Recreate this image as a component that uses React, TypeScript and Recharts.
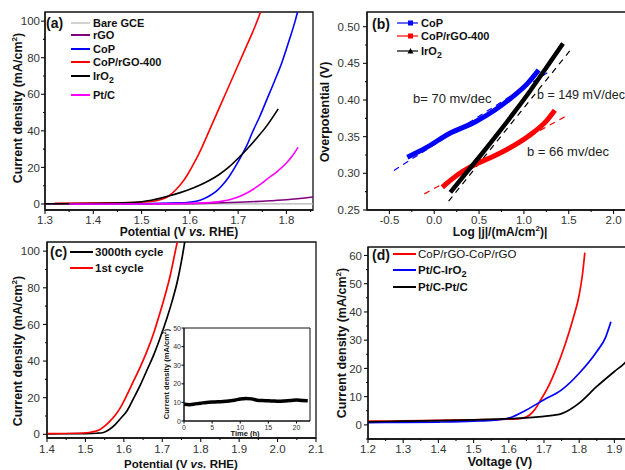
import React from 'react';
import { LineChart, Line, XAxis, YAxis, Legend, Label, ReferenceArea } from 'recharts';

const FONT = '"Liberation Sans", Arial, Helvetica, sans-serif';
const INK = '#111111';
const TINK = '#333333';

type P = [number, number];
const pts = (a: P[]) => a.map(([x, y]) => ({ x, y }));

// ---------------- Panel (a): OER polarization ----------------
const aSeries = ['Bare GCE', 'rGO', 'CoP', 'CoP/rGO-400', 'IrO2', 'Pt/C'];
const aColors = ['#b4b4b4', '#800080', '#0000ff', '#ff0000', '#000000', '#ff00ff'];
const aBareGCE: P[] = [[1.3, 0], [1.45, 0], [1.6, 0], [1.75, 0], [1.855, 0]];
const aRGO: P[] = [[1.3, 0], [1.5, 0.05], [1.6, 0.2], [1.65, 0.5], [1.7, 0.9], [1.75, 1.5], [1.8, 2.3], [1.855, 3.8]];
const aCoP: P[] = [[1.35, 0.1], [1.5, 0.2], [1.58, 0.6], [1.613, 1.5], [1.63, 3], [1.641, 4.5], [1.655, 7], [1.668, 10.5], [1.68, 14.5], [1.692, 19.5], [1.705, 25.5], [1.718, 32], [1.73, 39.5], [1.745, 48], [1.76, 57.5], [1.775, 67], [1.79, 77], [1.805, 89], [1.818, 100], [1.824, 106]];
const aCoPrGO: P[] = [[1.32, 0.3], [1.45, 0.6], [1.5, 1.0], [1.53, 1.8], [1.545, 2.8], [1.557, 4.5], [1.57, 7.5], [1.582, 11], [1.595, 16], [1.61, 23], [1.625, 31], [1.64, 40], [1.655, 49], [1.67, 58], [1.685, 67], [1.7, 76], [1.715, 85], [1.73, 94], [1.745, 104], [1.75, 108]];
const aIrO2: P[] = [[1.3, 0.1], [1.45, 0.5], [1.5, 1.2], [1.52, 2], [1.54, 3.2], [1.56, 4.6], [1.58, 6.2], [1.6, 8], [1.62, 10.2], [1.64, 12.8], [1.66, 16], [1.68, 20], [1.7, 25], [1.72, 30.5], [1.74, 36.5], [1.76, 43], [1.783, 52]];
const aPtC: P[] = [[1.35, 0], [1.5, 0], [1.6, 0.3], [1.65, 1], [1.68, 2.2], [1.7, 3.8], [1.72, 6.3], [1.74, 9.6], [1.76, 13.6], [1.78, 17.6], [1.8, 22.4], [1.812, 26.2], [1.824, 31]];
const aData = [aBareGCE, aRGO, aCoP, aCoPrGO, aIrO2, aPtC];
const aXMajor = [1.3, 1.4, 1.5, 1.6, 1.7, 1.8];
const aXMinor = [1.35, 1.45, 1.55, 1.65, 1.75, 1.85];
const aYMajor = [0, 20, 40, 60, 80, 100];
const aYMinor = [10, 30, 50, 70, 90];

// ---------------- Panel (b): Tafel ----------------
const bSeries = ['CoP', 'CoP/rGO-400', 'IrO2'];
const bColors = ['#0000ff', '#ff0000', '#000000'];
const bCoP: P[] = [[-0.3, 0.322], [-0.09, 0.335], [0.164, 0.354], [0.455, 0.37], [0.673, 0.386], [0.89, 0.406], [1.036, 0.422], [1.164, 0.441]];
const bCoPrGO: P[] = [[0.09, 0.281], [0.273, 0.299], [0.455, 0.312], [0.673, 0.324], [0.891, 0.338], [1.109, 0.356], [1.255, 0.372], [1.345, 0.386]];
const bIrO2: P[] = [[0.18, 0.274], [0.345, 0.299], [0.527, 0.326], [0.709, 0.354], [0.891, 0.383], [1.073, 0.413], [1.255, 0.445], [1.436, 0.477]];
const bFitCoP: P[] = [[-0.45, 0.304], [1.26, 0.437]];
const bFitCoPrGO: P[] = [[-0.11, 0.272], [1.455, 0.377]];
const bFitIrO2: P[] = [[0.16, 0.262], [1.545, 0.472]];
const bSlopes = ['b= 70 mv/dec', 'b = 149 mV/dec', 'b = 66 mv/dec'];
const bXMajor = [-0.5, 0, 0.5, 1.0, 1.5, 2.0];
const bXMinor = [-0.25, 0.25, 0.75, 1.25, 1.75];
const bYMajor = [0.25, 0.3, 0.35, 0.4, 0.45, 0.5];
const bYMinor = [0.275, 0.325, 0.375, 0.425, 0.475];

// ---------------- Panel (c): stability ----------------
const cSeries = ['3000th cycle', '1st cycle'];
const c3000: P[] = [[1.4, 0.3], [1.5, 0.4], [1.53, 0.6], [1.547, 1], [1.562, 2.6], [1.578, 5.4], [1.592, 8.8], [1.608, 12.7], [1.625, 19.5], [1.643, 27], [1.66, 35], [1.678, 43.5], [1.695, 53], [1.712, 63.4], [1.726, 73], [1.739, 83.3], [1.752, 97], [1.76, 107]];
const c1st: P[] = [[1.4, 0.4], [1.48, 0.6], [1.51, 1.0], [1.525, 1.6], [1.538, 2.7], [1.55, 4.5], [1.564, 7.2], [1.578, 10.5], [1.591, 14.6], [1.608, 21.5], [1.625, 29], [1.643, 37], [1.66, 45.3], [1.678, 55.5], [1.695, 67], [1.708, 76.5], [1.721, 87], [1.73, 96], [1.738, 104], [1.742, 108]];
const cXMajor = [1.4, 1.5, 1.6, 1.7, 1.8, 1.9, 2.0, 2.1];
const cXMinor = [1.45, 1.55, 1.65, 1.75, 1.85, 1.95, 2.05];
const cYMajor = [0, 20, 40, 60, 80, 100];
const cYMinor = [10, 30, 50, 70, 90];
const insetTime: P[] = [[0, 9], [1, 8.8], [2, 9.2], [3, 9.6], [4, 10], [5, 10.2], [6, 10.3], [7, 10.5], [8, 10.8], [9, 11.2], [10, 11.8], [11, 12.1], [12, 11.9], [13, 11.2], [14, 11], [15, 10.9], [16, 10.7], [17, 10.6], [18, 10.8], [19, 11], [20, 11.3], [21, 11], [22, 10.9]];
const insetXTicks = [0, 5, 10, 15, 20];
const insetYTicks = [0, 10, 20, 30, 40, 50];

// ---------------- Panel (d): overall water splitting ----------------
const dSeries = ['CoP/rGO-CoP/rGO', 'Pt/C-IrO2', 'Pt/C-Pt/C'];
const dColors = ['#ff0000', '#0000ff', '#000000'];
const dCoP: P[] = [[1.2, 1.3], [1.3, 1.4], [1.4, 1.6], [1.5, 1.8], [1.6, 2.0], [1.64, 2.4], [1.66, 3.6], [1.675, 5.6], [1.688, 8.3], [1.71, 13], [1.735, 20], [1.76, 28.5], [1.783, 37.8], [1.8, 46], [1.809, 53], [1.816, 61]];
const dPtIr: P[] = [[1.2, 0.8], [1.3, 0.9], [1.4, 1.0], [1.5, 1.3], [1.56, 1.7], [1.6, 2.4], [1.65, 5.3], [1.7, 8.9], [1.75, 12.4], [1.8, 18.3], [1.85, 26], [1.875, 31], [1.89, 36.5]];
const dPtPt: P[] = [[1.2, 1.1], [1.3, 1.3], [1.4, 1.5], [1.5, 1.8], [1.6, 2.2], [1.7, 3.0], [1.75, 4.0], [1.8, 7.7], [1.85, 13.6], [1.9, 18.9], [1.93, 22], [1.95, 25]];
const dData = [dCoP, dPtIr, dPtPt];
const dXMajor = [1.2, 1.3, 1.4, 1.5, 1.6, 1.7, 1.8, 1.9];
const dXMinor = [1.25, 1.35, 1.45, 1.55, 1.65, 1.75, 1.85];
const dYMajor = [0, 10, 20, 30, 40, 50, 60];
const dYMinor = [-5, 5, 15, 25, 35, 45, 55];

// ---------------- helpers ----------------
const near = (arr: number[], v: number) => arr.some((m) => Math.abs(m - v) < 1e-6);
const f1 = (v: number) => v.toFixed(1);
const f2 = (v: number) => v.toFixed(2);
const f0 = (v: number) => String(Math.round(v));

function xTick(majors: number[], fmt: (v: number) => string, dy: number, fs = 11.5, L = 4, l = 2) {
  return (p: any) => {
    const v = Number(p.payload?.value);
    const M = near(majors, v);
    return (
      <g>
        <line x1={p.x} x2={p.x} y1={p.y} y2={p.y + (M ? L : l)} stroke={INK} strokeWidth={1.1} />
        {M ? (
          <text x={p.x} y={p.y + dy} textAnchor="middle" fontFamily={FONT} fontSize={fs} fill={TINK}>
            {fmt(v)}
          </text>
        ) : null}
      </g>
    );
  };
}
function yTick(majors: number[], fmt: (v: number) => string, dx: number, fs = 11.5, L = 4, l = 2) {
  return (p: any) => {
    const v = Number(p.payload?.value);
    const M = near(majors, v);
    return (
      <g>
        <line x1={p.x} x2={p.x - (M ? L : l)} y1={p.y} y2={p.y} stroke={INK} strokeWidth={1.1} />
        {M ? (
          <text x={p.x - dx} y={p.y + fs * 0.36} textAnchor="end" fontFamily={FONT} fontSize={fs} fill={TINK}>
            {fmt(v)}
          </text>
        ) : null}
      </g>
    );
  };
}

const CurrentTitle = ({ cx, cy, fs }: { cx: number; cy: number; fs: number }) => (
  <text transform={`translate(${cx},${cy}) rotate(-90)`} textAnchor="middle" fontFamily={FONT} fontSize={fs} fontWeight="bold" fill={INK}>
    Current density (mA/cm<tspan dy={-fs * 0.4} fontSize={fs * 0.65}>2</tspan>
    <tspan dy={fs * 0.4}>)</tspan>
  </text>
);
const PotentialTitle = ({ cx, y, fs }: { cx: number; y: number; fs: number }) => (
  <text x={cx} y={y} textAnchor="middle" fontFamily={FONT} fontSize={fs} fontWeight="bold" fill={INK}>
    Potential (V <tspan fontStyle="italic">vs.</tspan> RHE)
  </text>
);
const Name = ({ name, fs }: { name: string; fs: number }) =>
  name.endsWith('IrO2') ? (
    <>
      {name.slice(0, -1)}
      <tspan dy={fs * 0.3} fontSize={fs * 0.8}>2</tspan>
    </>
  ) : (
    <>{name}</>
  );

const overlay = (w: number, h: number, body: React.ReactNode) => (
  <Legend
    layout="vertical"
    align="center"
    verticalAlign="middle"
    wrapperStyle={{ position: 'absolute', left: 0, top: 0, width: w, height: h, margin: 0, padding: 0, pointerEvents: 'none' }}
    content={() => (
      <svg width={w} height={h} style={{ display: 'block', overflow: 'visible' }}>
        {body}
      </svg>
    )}
  />
);

const box = (x: [number, number], y: [number, number], sw = 1.3) => (
  <ReferenceArea x1={x[0]} x2={x[1]} y1={y[0]} y2={y[1]} fill="none" stroke={INK} strokeWidth={sw} ifOverflow="visible" />
);

// ---------------- Panel components ----------------
const aXD: [number, number] = [1.3, 1.855];
const aYD: [number, number] = [-3.3, 105];
function PanelA() {
  const rowsY = [23, 35, 49, 62, 76, 95];
  return (
    <LineChart width={320} height={240} margin={{ top: 12, right: 7, bottom: 0, left: 0 }}>
      <XAxis dataKey="x" type="number" domain={aXD} ticks={[...aXMajor, ...aXMinor].sort((p, q) => p - q)} allowDataOverflow interval={0} tickLine={false} tickSize={0} tickMargin={0} height={30} axisLine={{ stroke: INK, strokeWidth: 1.3 }} tick={xTick(aXMajor, f1, 13.5)}>
        <Label content={() => <PotentialTitle cx={179} y={236} fs={12} />} />
      </XAxis>
      <YAxis type="number" domain={aYD} ticks={[...aYMajor, ...aYMinor].sort((p, q) => p - q)} allowDataOverflow interval={0} tickLine={false} tickSize={0} tickMargin={0} width={45} axisLine={{ stroke: INK, strokeWidth: 1.3 }} tick={yTick(aYMajor, f0, 5)}>
        <Label content={() => <CurrentTitle cx={22} cy={108} fs={12.5} />} />
      </YAxis>
      {box(aXD, aYD)}
      {aData.map((d, i) => (
        <Line key={aSeries[i]} name={aSeries[i]} data={pts(d)} dataKey="y" type="monotone" stroke={aColors[i]} strokeWidth={i === 0 ? 1.2 : 1.6} dot={false} activeDot={false} isAnimationActive={false} />
      ))}
      {overlay(
        320,
        240,
        <g fontFamily={FONT} fontWeight="bold" fill={INK}>
          <text x={46} y={28} fontSize={14}>(a)</text>
          {aSeries.map((s, i) => (
            <g key={s}>
              <line x1={71} x2={90} y1={rowsY[i]} y2={rowsY[i]} stroke={aColors[i]} strokeWidth={i === 0 ? 1.2 : 2} />
              <text x={93} y={rowsY[i] + 4} fontSize={11}>
                <Name name={s} fs={11} />
              </text>
            </g>
          ))}
        </g>
      )}
    </LineChart>
  );
}

const bXD: [number, number] = [-0.75, 2.15];
const bYD: [number, number] = [0.25, 0.52];
function PanelB() {
  const bData = [bCoP, bCoPrGO, bIrO2];
  const bFits = [bFitCoP, bFitCoPrGO, bFitIrO2];
  const rowsY = [23, 36, 51];
  return (
    <LineChart width={320} height={240} margin={{ top: 12, right: 3, bottom: 0, left: 0 }}>
      <XAxis dataKey="x" type="number" domain={bXD} ticks={[...bXMajor, ...bXMinor].sort((p, q) => p - q)} allowDataOverflow interval={0} tickLine={false} tickSize={0} tickMargin={0} height={30} axisLine={{ stroke: INK, strokeWidth: 1.3 }} tick={xTick(bXMajor, f1, 13.5)}>
        <Label
          content={() => (
            <text x={190} y={236} textAnchor="middle" fontFamily={FONT} fontSize={12} fontWeight="bold" fill={INK}>
              Log |j|/(mA/cm<tspan dy={-5} fontSize={8}>2</tspan>
              <tspan dy={5}>)|</tspan>
            </text>
          )}
        />
      </XAxis>
      <YAxis type="number" domain={bYD} ticks={[...bYMajor, ...bYMinor].sort((p, q) => p - q)} allowDataOverflow interval={0} tickLine={false} tickSize={0} tickMargin={0} width={57} axisLine={{ stroke: INK, strokeWidth: 1.3 }} tick={yTick(bYMajor, f2, 7)}>
        <Label
          content={() => (
            <text transform="translate(19,112) rotate(-90)" textAnchor="middle" fontFamily={FONT} fontSize={12.5} fontWeight="bold" fill={INK}>
              Overpotential (V)
            </text>
          )}
        />
      </YAxis>
      {box(bXD, bYD)}
      {bFits.map((d, i) => (
        <Line key={'fit' + i} name={bSeries[i] + ' fit'} legendType="none" data={pts(d)} dataKey="y" type="linear" stroke={bColors[i]} strokeWidth={1.2} strokeDasharray="6 5" dot={false} activeDot={false} isAnimationActive={false} />
      ))}
      {bData.map((d, i) => (
        <Line key={bSeries[i]} name={bSeries[i]} data={pts(d)} dataKey="y" type="monotone" stroke={bColors[i]} strokeWidth={i === 2 ? 4.5 : 5} dot={false} activeDot={false} isAnimationActive={false} />
      ))}
      {overlay(
        320,
        240,
        <g fontFamily={FONT} fill={INK}>
          <text x={62} y={29} fontSize={14} fontWeight="bold">(b)</text>
          {bSeries.map((s, i) => (
            <g key={s}>
              <line x1={87} x2={108} y1={rowsY[i]} y2={rowsY[i]} stroke={bColors[i]} strokeWidth={1.2} />
              {i < 2 ? (
                <rect x={98} y={rowsY[i] - 2.5} width={5} height={5} fill={bColors[i]} />
              ) : (
                <polygon points={`${100.5},${rowsY[i] - 3} ${103.5},${rowsY[i] + 2.5} ${97.5},${rowsY[i] + 2.5}`} fill={bColors[i]} />
              )}
              <text x={111} y={rowsY[i] + 4} fontSize={11} fontWeight="bold">
                <Name name={s} fs={11} />
              </text>
            </g>
          ))}
          <text x={103} y={103} fontSize={13} fill="#222">{bSlopes[0]}</text>
          <text x={227} y={99} fontSize={12.5} fill="#222">{bSlopes[1]}</text>
          <text x={217} y={156} fontSize={13} fill="#222">{bSlopes[2]}</text>
        </g>
      )}
    </LineChart>
  );
}

const cXD: [number, number] = [1.4, 2.1];
const cYD: [number, number] = [-2, 105];
function PanelC() {
  const rowsY = [17, 33];
  return (
    <LineChart width={332} height={235} margin={{ top: 7, right: 16, bottom: 0, left: 0 }}>
      <XAxis dataKey="x" type="number" domain={cXD} ticks={[...cXMajor, ...cXMinor].sort((p, q) => p - q)} allowDataOverflow interval={0} tickLine={false} tickSize={0} tickMargin={0} height={32} axisLine={{ stroke: INK, strokeWidth: 1.3 }} tick={xTick(cXMajor, f1, 14.5)}>
        <Label content={() => <PotentialTitle cx={181} y={232.5} fs={11.5} />} />
      </XAxis>
      <YAxis type="number" domain={cYD} ticks={[...cYMajor, ...cYMinor].sort((p, q) => p - q)} allowDataOverflow interval={0} tickLine={false} tickSize={0} tickMargin={0} width={47} axisLine={{ stroke: INK, strokeWidth: 1.3 }} tick={yTick(cYMajor, f0, 7)}>
        <Label content={() => <CurrentTitle cx={22} cy={116} fs={12.5} />} />
      </YAxis>
      {box(cXD, cYD)}
      <Line name={cSeries[0]} data={pts(c3000)} dataKey="y" type="monotone" stroke="#000000" strokeWidth={1.7} dot={false} activeDot={false} isAnimationActive={false} />
      <Line name={cSeries[1]} data={pts(c1st)} dataKey="y" type="monotone" stroke="#ff0000" strokeWidth={1.7} dot={false} activeDot={false} isAnimationActive={false} />
      {overlay(
        332,
        235,
        <g fontFamily={FONT} fontWeight="bold" fill={INK}>
          <text x={50} y={22} fontSize={14}>(c)</text>
          {cSeries.map((s, i) => (
            <g key={s}>
              <line x1={70} x2={93} y1={rowsY[i]} y2={rowsY[i]} stroke={i === 0 ? '#000' : '#ff0000'} strokeWidth={2} />
              <text x={95} y={rowsY[i] + 4} fontSize={11.5}>{s}</text>
            </g>
          ))}
        </g>
      )}
    </LineChart>
  );
}

const insXD: [number, number] = [0, 22.4];
const insYD: [number, number] = [0, 50];
function Inset() {
  return (
    <LineChart width={155} height={120} margin={{ top: 8, right: 5, bottom: 0, left: 0 }}>
      <XAxis dataKey="x" type="number" domain={insXD} ticks={insetXTicks} allowDataOverflow interval={0} tickLine={false} tickSize={0} tickMargin={0} height={19} axisLine={{ stroke: INK, strokeWidth: 1 }} tick={xTick(insetXTicks, f0, 8.5, 7, 2.5, 2)}>
        <Label
          content={() => (
            <text x={85} y={116} textAnchor="middle" fontFamily={FONT} fontSize={7.5} fontWeight="bold" fill={INK}>
              Time (h)
            </text>
          )}
        />
      </XAxis>
      <YAxis type="number" domain={insYD} ticks={insetYTicks} allowDataOverflow interval={0} tickLine={false} tickSize={0} tickMargin={0} width={24} axisLine={{ stroke: INK, strokeWidth: 1 }} tick={yTick(insetYTicks, f0, 3, 7, 2.5, 2)}>
        <Label
          content={() => (
            <text transform="translate(9,54) rotate(-90)" textAnchor="middle" fontFamily={FONT} fontSize={7.5} fontWeight="bold" fill={INK}>
              Current density (mA/cm<tspan dy={-3} fontSize={5}>2</tspan>
              <tspan dy={3}>)</tspan>
            </text>
          )}
        />
      </YAxis>
      {box(insXD, insYD, 1)}
      <Line name="Stability" data={pts(insetTime)} dataKey="y" type="monotone" stroke="#000000" strokeWidth={3.5} dot={false} activeDot={false} isAnimationActive={false} />
    </LineChart>
  );
}

const dXD: [number, number] = [1.2, 1.95];
const dYD: [number, number] = [-5, 63];
function PanelD() {
  const rowsY = [19, 35, 52];
  return (
    <LineChart width={312} height={235} margin={{ top: 12, right: 0, bottom: 0, left: 0 }}>
      <XAxis dataKey="x" type="number" domain={dXD} ticks={[...dXMajor, ...dXMinor].sort((p, q) => p - q)} allowDataOverflow interval={0} tickLine={false} tickSize={0} tickMargin={0} height={31} axisLine={{ stroke: INK, strokeWidth: 1.3 }} tick={xTick(dXMajor, f1, 14)}>
        <Label
          content={() => (
            <text x={180} y={231} textAnchor="middle" fontFamily={FONT} fontSize={12.5} fontWeight="bold" fill={INK}>
              Voltage (V)
            </text>
          )}
        />
      </XAxis>
      <YAxis type="number" domain={dYD} ticks={[...dYMajor, ...dYMinor].sort((p, q) => p - q)} allowDataOverflow interval={0} tickLine={false} tickSize={0} tickMargin={0} width={48} axisLine={{ stroke: INK, strokeWidth: 1.3 }} tick={yTick(dYMajor, f0, 6)}>
        <Label content={() => <CurrentTitle cx={26} cy={108} fs={12.5} />} />
      </YAxis>
      {box(dXD, dYD)}
      {dData.map((d, i) => (
        <Line key={dSeries[i]} name={dSeries[i]} data={pts(d)} dataKey="y" type="monotone" stroke={dColors[i]} strokeWidth={1.7} dot={false} activeDot={false} isAnimationActive={false} />
      ))}
      {overlay(
        312,
        235,
        <g fontFamily={FONT} fill={INK}>
          <text x={52} y={25} fontSize={14} fontWeight="bold">(d)</text>
          {dSeries.map((s, i) => (
            <g key={s}>
              <line x1={73} x2={96} y1={rowsY[i]} y2={rowsY[i]} stroke={dColors[i]} strokeWidth={2} />
              <text x={98} y={rowsY[i] + 4} fontSize={11.5} fontWeight={i === 0 ? 'normal' : 'bold'}>
                <Name name={s} fs={11.5} />
              </text>
            </g>
          ))}
        </g>
      )}
    </LineChart>
  );
}

export default function App() {
  const abs = (left: number, top: number): React.CSSProperties => ({ position: 'absolute', left, top });
  return (
    <div style={{ position: 'absolute', left: 0, top: 0, width: 625, height: 470, overflow: 'hidden', background: '#ffffff', fontFamily: FONT }}>
      <div style={abs(0, 0)}><PanelA /></div>
      <div style={abs(310, 0)}><PanelB /></div>
      <div style={abs(0, 235)}><PanelC /></div>
      <div style={abs(320, 235)}><PanelD /></div>
      <div style={abs(160, 320)}><Inset /></div>
    </div>
  );
}
